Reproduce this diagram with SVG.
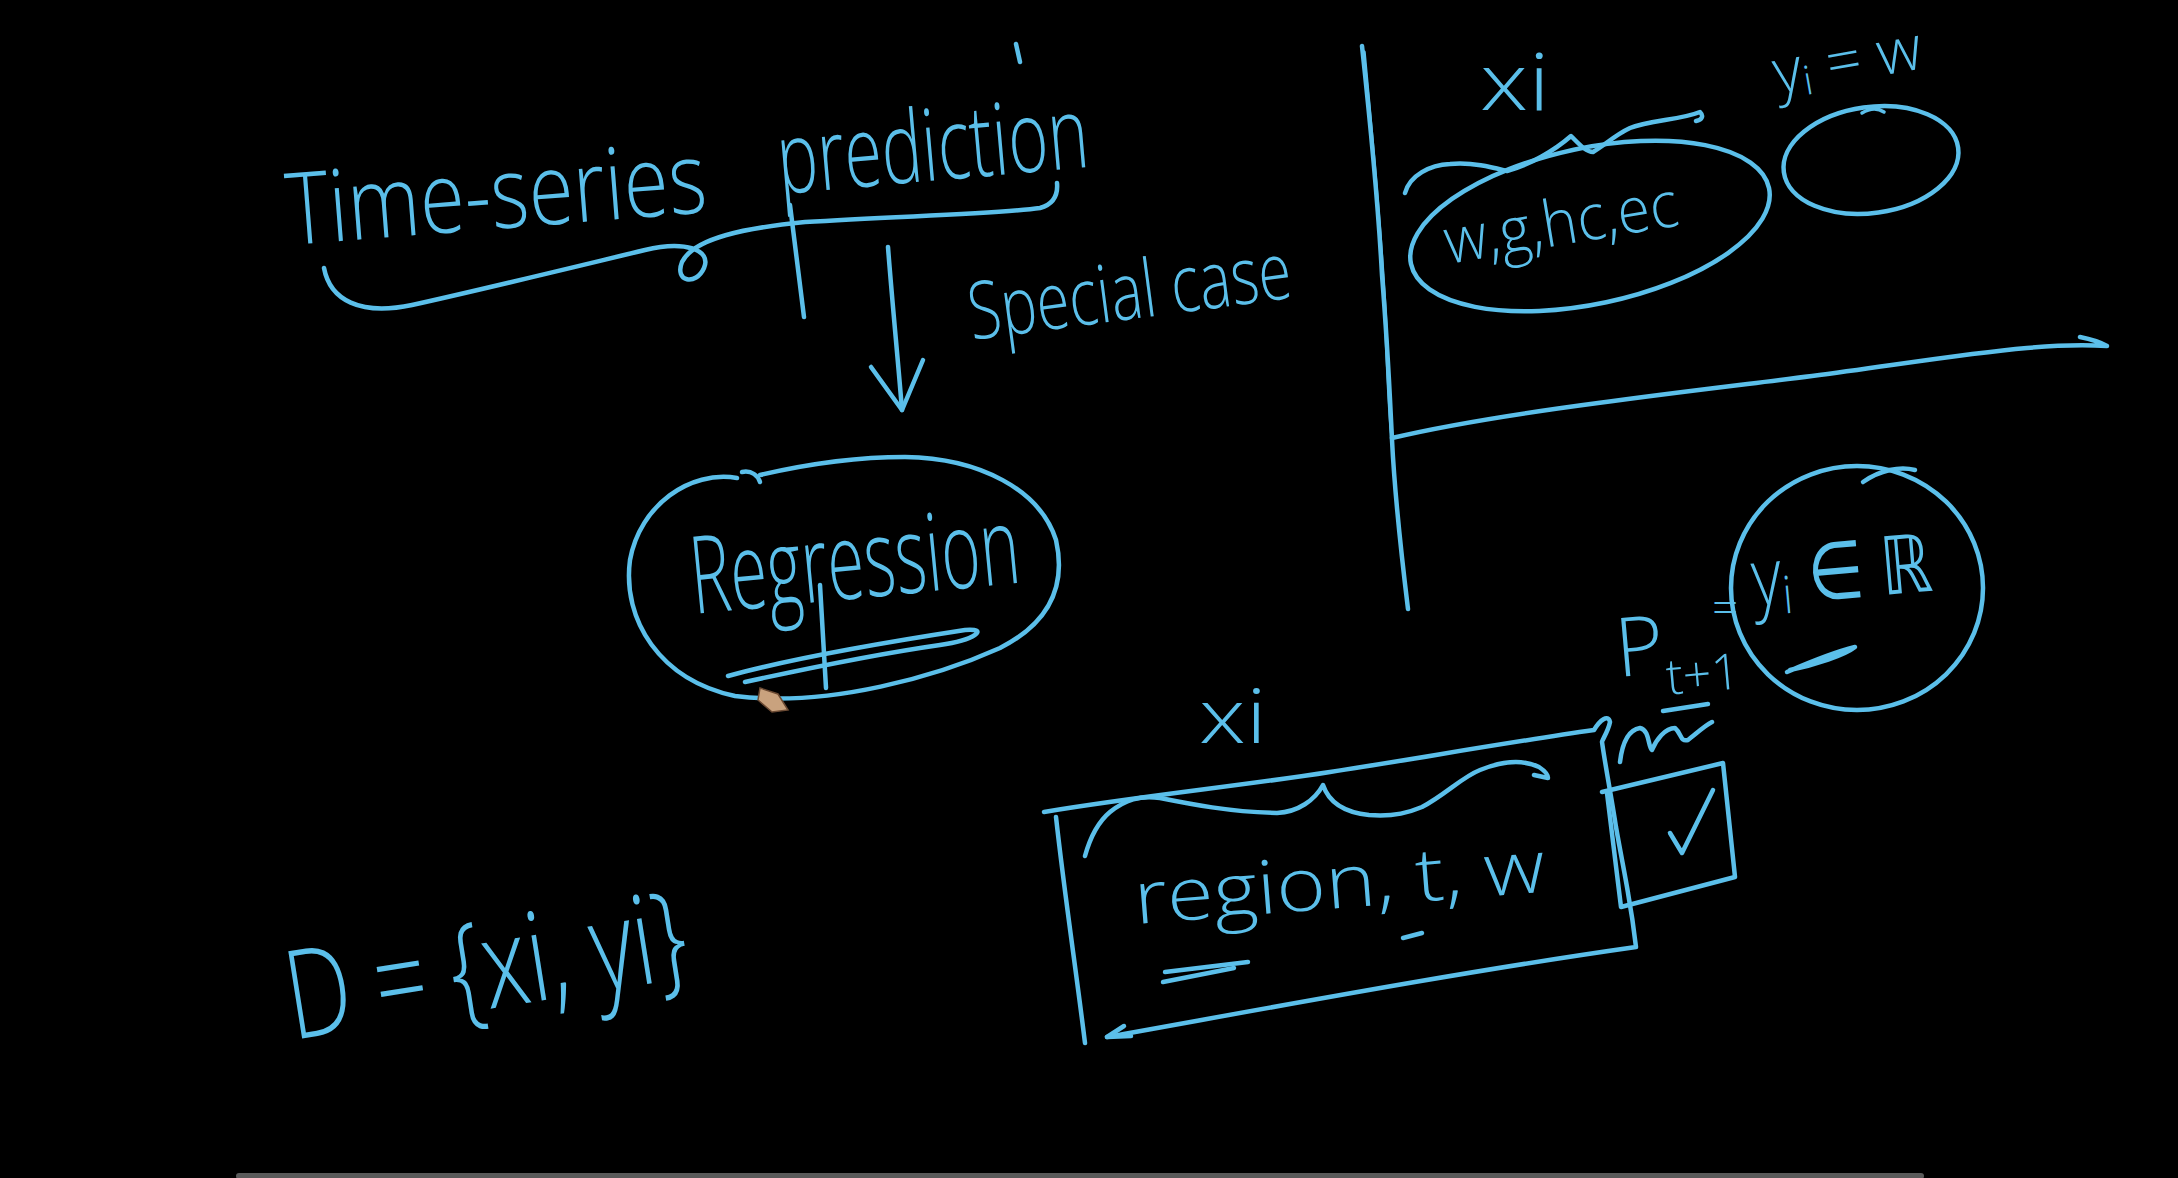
<svg xmlns="http://www.w3.org/2000/svg" width="2178" height="1178" viewBox="0 0 2178 1178">
<style>
.ink{fill:none;stroke:#5bbfea;stroke-width:4.5;stroke-linecap:round;stroke-linejoin:round}
.thin{fill:none;stroke:#5bbfea;stroke-width:3.5;stroke-linecap:round;stroke-linejoin:round}
.t{fill:#5bbfea;font-family:"Open Sans","Liberation Sans",sans-serif;font-weight:300}
</style>
<rect width="2178" height="1178" fill="#000"/>

<g id="title">
<text class="t" x="289" y="245" font-size="100" textLength="421" lengthAdjust="spacingAndGlyphs" transform="rotate(-4.5 289 245)">Time-series</text>
<text class="t" x="780" y="194" font-size="100" textLength="312" lengthAdjust="spacingAndGlyphs" transform="rotate(-5 780 194)">prediction</text>
<path class="ink" d="M1016,44 L1020,62"/>
<path class="ink" d="M324,268 C330,300 360,316 412,305 C480,290 570,268 645,250 C685,240 712,250 704,268 C696,286 674,282 682,262 C694,238 745,228 805,222 C900,216 1000,214 1040,208 C1054,204 1058,194 1057,183"/>
<path class="ink" d="M790,205 L804,317"/>
</g>

<g id="special-case">
<text class="t" x="972" y="340" font-size="80" textLength="325" lengthAdjust="spacingAndGlyphs" transform="rotate(-7.5 972 340)">Special case</text>
</g>

<g id="regression">
<path class="ink" d="M737,478 C690,470 640,505 630,560 C622,620 660,680 735,696 C830,708 940,675 1000,648 C1055,620 1065,580 1056,540 C1040,490 980,458 905,457 C845,457 790,468 760,475"/>
<path class="ink" d="M742,472 C752,470 758,476 760,482"/>
<text class="t" x="694" y="614" font-size="108" textLength="330" lengthAdjust="spacingAndGlyphs" transform="rotate(-5.5 694 614)">Regression</text>
<path class="ink" d="M728,676 C800,656 900,640 965,630 C990,628 975,640 940,645 C870,655 800,670 745,682"/>
<path class="ink" d="M820,585 L826,688"/>
<path d="M760,688 L778,694 L788,710 L772,712 L758,700 Z" fill="#c9a27e" stroke="#6b4a33" stroke-width="1.5"/>
</g>

<g id="connectors">
<path class="ink" d="M888,247 C892,300 898,360 902,410"/>
<path class="ink" d="M871,367 L902,410 L923,360"/>
</g>

<g id="axes">
<path class="ink" d="M1362,46 C1370,120 1378,200 1382,275 C1388,350 1390,400 1392,440 C1395,500 1402,560 1408,609"/>
<path class="thin" d="M1364,52 C1372,140 1382,240 1386,330 C1388,380 1390,420 1392,436"/>
<path class="ink" d="M1392,438 C1460,422 1530,412 1598,403 C1670,393 1740,385 1812,376 C1890,366 1960,354 2027,348 C2060,345 2090,345 2107,346 C2100,342 2090,339 2080,337"/>
</g>

<g id="features-ellipse">
<ellipse class="ink" cx="1590" cy="226" rx="183" ry="78" transform="rotate(-12 1590 226)"/>
<text class="t" x="1448" y="264" font-size="64" textLength="236" lengthAdjust="spacingAndGlyphs" transform="rotate(-9.5 1448 264)">w,g,hc,ec</text>
<path class="ink" d="M1405,193 C1410,175 1430,165 1450,164 C1475,162 1495,168 1507,171 C1530,165 1555,150 1571,136 C1580,145 1586,152 1593,152 C1605,145 1615,135 1630,128 C1650,120 1680,120 1700,112 C1704,116 1702,120 1696,121"/>
<text class="t" x="1480" y="110" font-size="80" textLength="70" lengthAdjust="spacingAndGlyphs">xi</text>
</g>

<g id="target-ellipse">
<ellipse class="ink" cx="1871" cy="160" rx="88" ry="53" transform="rotate(-8 1871 160)"/>
<path class="thin" d="M1862,113 C1870,108 1878,108 1884,112"/>
<text class="t" x="1777" y="94" font-size="62" transform="rotate(-10 1777 94)">y<tspan font-size="40" dy="6">i</tspan><tspan dy="-6"> = w</tspan></text>
</g>

<g id="real-circle">
<ellipse class="ink" cx="1857" cy="588" rx="126" ry="122"/>
<path class="ink" d="M1863,482 C1880,470 1900,466 1915,470"/>
<text class="t" x="1754" y="606" font-size="80" textLength="180" lengthAdjust="spacingAndGlyphs" transform="rotate(-5 1754 606)">y<tspan font-size="52" dy="10">i</tspan><tspan dy="-10"> ∈ ℝ</tspan></text>
<path class="ink" d="M1787,672 C1810,662 1835,652 1855,647 C1845,655 1815,665 1790,670"/>
</g>

<g id="p-label">
<text class="t" x="1618" y="677" font-size="82" transform="rotate(-5 1618 677)">P<tspan font-size="50" dy="22">t+1</tspan></text>
<text class="t" x="1712" y="624" font-size="46">=</text>
<path class="ink" d="M1663,711 L1708,704"/>
<path class="ink" d="M1620,762 C1622,745 1628,730 1640,728 C1650,730 1648,748 1652,750 C1656,740 1665,728 1675,728 C1682,734 1680,742 1688,740 C1696,734 1704,726 1712,722"/>
</g>

<g id="region-box">
<path class="ink" d="M1044,812 C1140,796 1240,786 1330,772 C1420,758 1510,742 1594,730 C1600,720 1608,714 1610,722 C1608,732 1602,740 1602,742 C1606,770 1612,800 1616,827 C1620,850 1626,880 1628,893 C1632,915 1634,930 1636,947 C1460,972 1280,1006 1107,1037"/>
<path class="ink" d="M1124,1026 L1107,1037 L1131,1036"/>
<path class="ink" d="M1056,817 C1064,890 1076,970 1085,1043"/>
<path class="ink" d="M1085,856 C1090,838 1098,822 1110,812 C1125,800 1140,795 1160,798 C1190,804 1230,812 1277,813 C1298,812 1315,800 1323,785 C1328,800 1340,812 1369,815 C1395,817 1410,812 1422,807 C1445,795 1462,777 1480,770 C1500,762 1520,758 1539,767 C1545,771 1548,775 1548,778 L1534,775"/>
<text class="t" x="1199" y="743" font-size="76" textLength="68" lengthAdjust="spacingAndGlyphs">xi</text>
<text class="t" x="1136" y="924" font-size="74" textLength="412" lengthAdjust="spacingAndGlyphs" transform="rotate(-4.5 1136 924)">region, t, w</text>
<path class="ink" d="M1165,972 L1248,962"/>
<path class="ink" d="M1163,982 L1234,968"/>
<path class="ink" d="M1403,938 L1422,933"/>
</g>

<g id="checkbox">
<path class="ink" d="M1602,792 L1723,763 L1735,877 L1621,907 L1607,793"/>
<path class="ink" d="M1670,833 L1682,853 L1713,790"/>
</g>

<g id="dataset">
<text class="t" x="293" y="1040" font-size="124" textLength="404" lengthAdjust="spacingAndGlyphs" transform="rotate(-9 293 1040)">D = {xi, yi}</text>
</g>

<rect x="236" y="1173" width="1688" height="6" rx="3" fill="#5a5a5a"/>
</svg>
